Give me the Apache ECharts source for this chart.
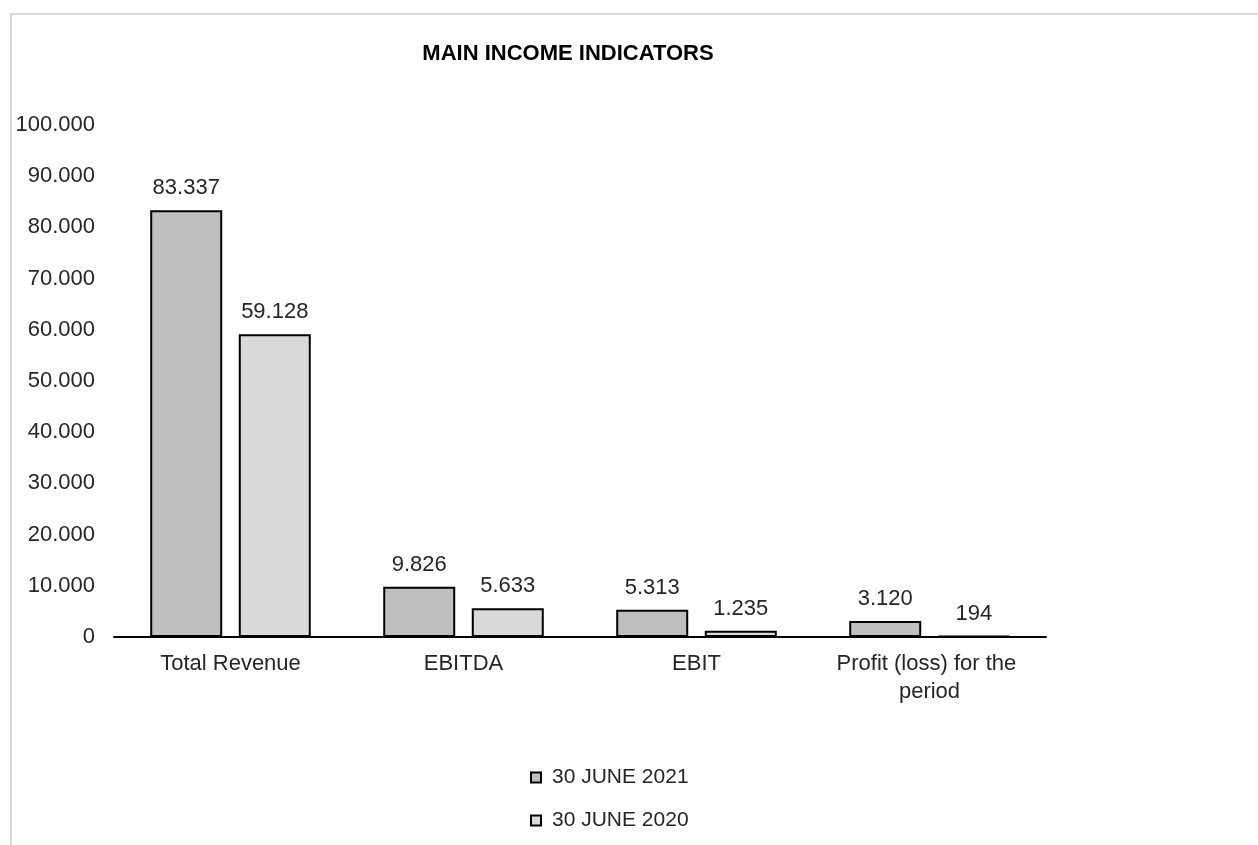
<!DOCTYPE html>
<html>
<head>
<meta charset="utf-8">
<script src="https://cdn.jsdelivr.net/npm/echarts@6/dist/echarts.min.js"></script>
<style>
  html, body { margin: 0; padding: 0; background: #fff; }
  #chart { width: 1258px; height: 845px; }
</style>
</head>
<body>
<div id="chart"></div>
<script>
const categories = ['Total Revenue', 'EBITDA', 'EBIT', 'Profit (loss) for the period'];
const seriesNames = ['30 JUNE 2021', '30 JUNE 2020'];
const values2021 = [83337, 9826, 5313, 3120];
const values2020 = [59128, 5633, 1235, 194];
const yTicks = [0, 10000, 20000, 30000, 40000, 50000, 60000, 70000, 80000, 90000, 100000];

// Thousands separator written as a dot
function fmt(v) {
  return String(Math.round(v)).replace(/\B(?=(\d{3})+(?!\d))/g, '.');
}

const textColor = '#262626';
const font = 'Liberation Sans, Arial, sans-serif';

const chart = echarts.init(document.getElementById('chart'));
chart.setOption({
  backgroundColor: '#ffffff',
  animation: false,
  graphic: [{
    type: 'rect',
    shape: { x: 11, y: 14, width: 1300, height: 900 },
    style: { fill: 'none', stroke: '#d9d9d9', lineWidth: 2 },
    silent: true
  }],
  title: {
    text: 'MAIN INCOME INDICATORS',
    left: 563,
    textAlign: 'center',
    top: 38,
    textStyle: { fontFamily: font, fontSize: 22, fontWeight: 'bold', color: '#000' }
  },
  legend: {
    orient: 'vertical',
    left: 525,
    top: 762,
    itemWidth: 10,
    itemHeight: 10,
    itemGap: 22,
    icon: 'rect',
    data: seriesNames,
    textStyle: { fontFamily: font, fontSize: 21, color: textColor, padding: [0, 0, 0, 6] }
  },
  grid: { left: 114, right: 212, top: 125, bottom: 208 },
  xAxis: {
    type: 'category',
    data: categories,
    axisLine: { lineStyle: { color: '#000', width: 2 } },
    axisTick: { show: false },
    axisLabel: {
      interval: 0,
      margin: 13,
      fontFamily: font,
      fontSize: 22,
      color: textColor,
      lineHeight: 28,
      width: 226,
      overflow: 'break'
    }
  },
  yAxis: {
    type: 'value',
    min: yTicks[0],
    max: yTicks[yTicks.length - 1],
    interval: yTicks[1] - yTicks[0],
    axisLine: { show: false },
    axisTick: { show: false },
    splitLine: { show: false },
    axisLabel: {
      margin: 19,
      fontFamily: font,
      fontSize: 22,
      color: textColor,
      formatter: fmt
    }
  },
  series: [
    {
      name: seriesNames[0],
      type: 'bar',
      data: values2021,
      barWidth: 72,
      barGap: '23%',
      itemStyle: { color: '#bfbfbf', borderColor: '#000', borderWidth: 2 },
      label: {
        show: true, position: 'top', distance: 11,
        fontFamily: font, fontSize: 22, color: textColor,
        formatter: p => fmt(p.value)
      }
    },
    {
      name: seriesNames[1],
      type: 'bar',
      data: values2020,
      barWidth: 72,
      itemStyle: { color: '#d9d9d9', borderColor: '#000', borderWidth: 2 },
      label: {
        show: true, position: 'top', distance: 11,
        fontFamily: font, fontSize: 22, color: textColor,
        formatter: p => fmt(p.value)
      }
    }
  ]
});
</script>
</body>
</html>
